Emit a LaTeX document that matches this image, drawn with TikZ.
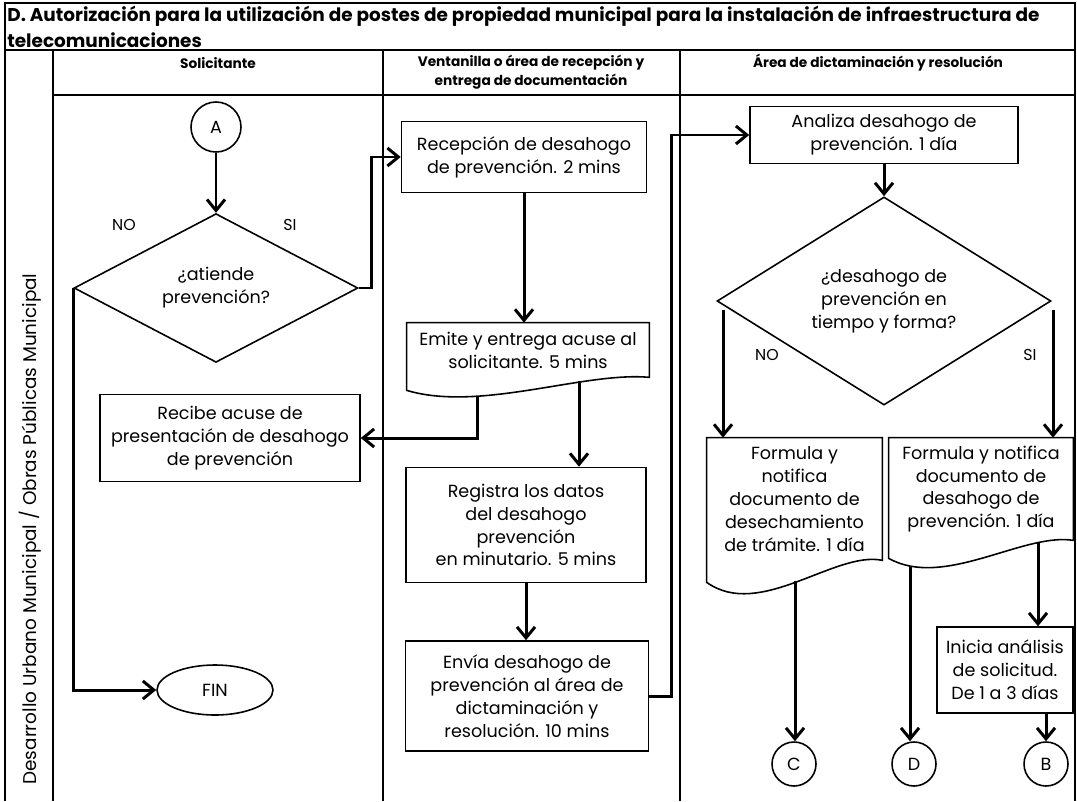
\documentclass[tikz,border=0pt]{standalone}
\usepackage{fontspec}
\setmainfont{Poppins}
\usetikzlibrary{shapes.geometric,arrows.meta,calc}

\begin{document}
\begin{tikzpicture}[x=0.02cm,y=-0.02cm,>={Straight Barb[length=2.2mm,width=3.6mm]},
  font=\fontsize{10}{13}\selectfont]

%
% Styles
%
\tikzstyle{proceso} = [rectangle,draw,line width=0.9pt,align=center,inner sep=2pt]
\tikzstyle{documento} = [rectangle,align=center,inner sep=2pt]
\tikzstyle{decision} = [diamond,draw,line width=0.9pt,align=center,inner sep=0pt]
\tikzstyle{conector} = [circle,draw,line width=0.9pt,minimum size=0.88cm,inner sep=0pt]
\tikzstyle{flecha} = [->,line width=1.7pt]
\tikzstyle{borde} = [line width=0.9pt]
\tikzstyle{carril} = [line width=0.6pt]
\tikzstyle{etiqueta} = [font=\fontsize{9}{11}\selectfont]
\tikzstyle{cabecera} = [align=center,font=\bfseries\fontsize{7.8}{10.5}\selectfont]
\tikzstyle{titular} = [anchor=west,inner sep=0pt,font=\bfseries\fontsize{10.5}{12}\selectfont]

\useasboundingbox (0,0) rectangle (1077,801);

% marco y carriles
\draw[carril] (5,801) -- (5,3) -- (1075,3) -- (1075,801);
\draw[carril] (5,50) -- (1075,50);
\draw[carril] (53,95) -- (1075,95);
\foreach \x in {53,383,680}
  \draw[carril] (\x,50) -- (\x,801);

\node[titular] (titulo) at (7,16)
  {D. Autorización para la utilización de postes de propiedad municipal para la instalación de infraestructura de};
\node[titular] (titulo2) at (7,40) {telecomunicaciones};
\node[rotate=90,font=\fontsize{10.5}{13}\selectfont] (area) at (30,529)
  {Desarrollo Urbano Municipal / Obras Públicas Municipal};
\node[cabecera] (hsol) at (218,63) {Solicitante};
\node[cabecera] (hven) at (531,72) {Ventanilla o área de recepción y\\entrega de documentación};
\node[cabecera] (hdic) at (878,63) {Área de dictaminación y resolución};

% Solicitante
\node[conector,minimum size=1cm] (A) at (216,127) {A};
\node[decision,minimum width=5.68cm,minimum height=2.6cm] (dec1) at (216,288) {¿atiende\\prevención?};
\node[proceso,minimum width=5.2cm,minimum height=1.74cm] (recibe) at (230,438)
  {Recibe acuse de\\presentación de desahogo\\de prevención};
\node[ellipse,draw,line width=0.9pt,minimum width=2.32cm,minimum height=1cm] (fin) at (215,690) {FIN};
\node[etiqueta] (no1) at (124,225) {NO};
\node[etiqueta] (si1) at (290,225) {SI};

% Ventanilla
\node[proceso,minimum width=4.9cm,minimum height=1.42cm] (rec) at (524,157)
  {Recepción de desahogo\\de prevención. 2 mins};
\node[documento,minimum width=4.84cm,minimum height=1.08cm] (emite) at (528,350)
  {Emite y entrega acuse al\\solicitante. 5 mins};
\node[proceso,minimum width=4.8cm,minimum height=2.3cm] (registra) at (526,525)
  {Registra los datos\\del desahogo\\prevención\\en minutario. 5 mins};
\node[proceso,minimum width=4.86cm,minimum height=2.2cm] (envia) at (527,696)
  {Envía desahogo de\\prevención al área de\\dictaminación y\\resolución. 10 mins};

% Dictaminacion
\node[proceso,minimum width=5.36cm,minimum height=1.14cm] (analiza) at (884,135)
  {Analiza desahogo de\\prevención. 1 día};
\node[decision,minimum width=6.68cm,minimum height=3.16cm] (dec2) at (884,301)
  {¿desahogo de\\prevención en\\tiempo y forma?};
\node[etiqueta] (no2) at (767,355) {NO};
\node[etiqueta] (si2) at (1030,355) {SI};
\node[documento,minimum width=3.5cm,minimum height=2.44cm] (des) at (794.5,499)
  {Formula y\\notifica\\documento de\\desechamiento\\de trámite. 1 día};
\node[documento,minimum width=3.68cm,minimum height=2.04cm] (not) at (981,489)
  {Formula y notifica\\documento de\\desahogo de\\prevención. 1 día};
\node[proceso,minimum width=2.72cm,minimum height=1.72cm] (inicia) at (1005,670)
  {Inicia análisis\\de solicitud.\\De 1 a 3 días};
\node[conector] (C) at (794,764) {C};
\node[conector] (D) at (914,764) {D};
\node[conector] (B) at (1046,764) {B};

% documentos
\draw[borde] (emite.north west) -- (emite.north east) -- (emite.south east)
  .. controls +(-65,-6) and +(73,22) .. ($(emite.south west)+(0,13)$) -- cycle;
\draw[borde] (des.north west) -- (des.north east) -- (des.south east)
  .. controls +(-47,-10) and +(53,38) .. ($(des.south west)+(0,22)$) -- cycle;
\draw[borde] (not.north west) -- (not.north east) -- (not.south east)
  .. controls +(-50,-8) and +(55,31) .. ($(not.south west)+(0,18)$) -- cycle;

\coordinate (e1) at (477,396);
\coordinate (e2) at (579,381);
\coordinate (n1) at (723,310);
\coordinate (s1) at (1053,310);
\coordinate (d1) at (795,581);
\coordinate (d2) at (1038,542);
\coordinate (d3) at (910,566);

% flechas
\draw[flecha] (A) -- (dec1);
\draw[flecha] (dec1.east) -- ++(13,0) |- (rec.west);
\draw[flecha] (dec1.west) |- (fin.west);
\draw[flecha] (rec.south) -- (rec.south |- emite.north);
\draw[flecha] (e1) |- (recibe.east);
\draw[flecha] (e2) -- (e2 |- registra.north);
\draw[flecha] (registra.south) -- (registra.south |- envia.north);
\draw[flecha] (envia.east) -- ++(22,0) |- (analiza.west);
\draw[flecha] (analiza.south) -- (dec2.north);
\draw[flecha] (n1) -- (n1 |- des.north);
\draw[flecha] (s1) -- (s1 |- not.north);
\draw[flecha] (d1) -- (d1 |- C.north);
\draw[flecha] (d3) -- (d3 |- D.north);
\draw[flecha] (d2) -- (d2 |- inicia.north);
\draw[flecha] (B.north |- inicia.south) -- (B.north);

\end{tikzpicture}
\end{document}
